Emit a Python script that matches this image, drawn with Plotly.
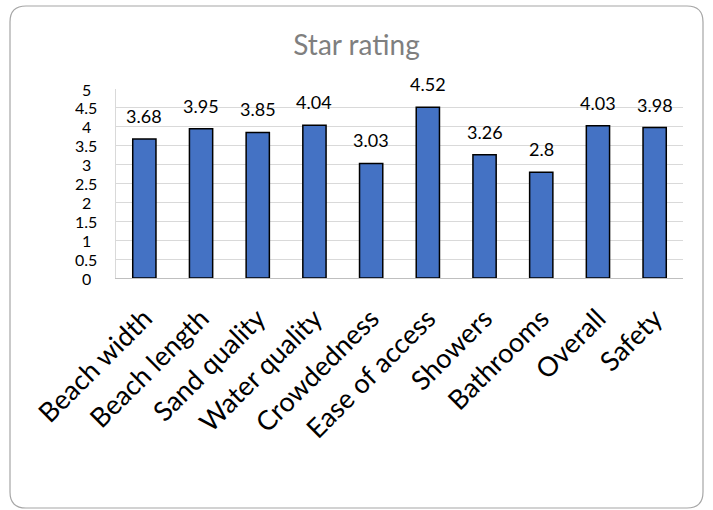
import plotly.graph_objects as go

categories = ["Beach width", "Beach length", "Sand quality", "Water quality",
              "Crowdedness", "Ease of access", "Showers", "Bathrooms",
              "Overall", "Safety"]
ratings = [3.68, 3.95, 3.85, 4.04, 3.03, 4.52, 3.26, 2.8, 4.03, 3.98]
y_ticks = [0, 0.5, 1, 1.5, 2, 2.5, 3, 3.5, 4, 4.5, 5]

W, H = 713, 510
L, R, T, B = 116, 30, 89, 232
pw, ph = W - L - R, H - T - B

FONT = "Lato"

fig = go.Figure()
fig.add_trace(go.Bar(
    x=categories, y=ratings,
    marker=dict(color="#4472C4", line=dict(color="#000000", width=1.5)),
    width=0.41,
))

# value labels above each bar
for c, v in zip(categories, ratings):
    fig.add_annotation(x=c, y=v, text=f"{v:g}", showarrow=False,
                       yanchor="bottom", yshift=10,
                       font=dict(family=FONT, size=18, color="#000000"))


def px_x(x):
    return (x - L) / pw


def px_y(y):
    return (H - B - y) / ph


# centred value-axis labels
for t in y_ticks:
    fig.add_annotation(x=px_x(86), xref="paper", y=t, yref="y",
                       text=f"{t:g}", showarrow=False,
                       xanchor="center", yanchor="middle", borderpad=0,
                       height=17,
                       font=dict(family=FONT, size=16, color="#000000"))

# rounded outer frame of the chart
x0, x1, y0, y1, r = 10, 703, 6, 508, 16
path = (
    f"M {px_x(x0 + r)} {px_y(y0)} L {px_x(x1 - r)} {px_y(y0)} "
    f"Q {px_x(x1)} {px_y(y0)} {px_x(x1)} {px_y(y0 + r)} "
    f"L {px_x(x1)} {px_y(y1 - r)} "
    f"Q {px_x(x1)} {px_y(y1)} {px_x(x1 - r)} {px_y(y1)} "
    f"L {px_x(x0 + r)} {px_y(y1)} "
    f"Q {px_x(x0)} {px_y(y1)} {px_x(x0)} {px_y(y1 - r)} "
    f"L {px_x(x0)} {px_y(y0 + r)} "
    f"Q {px_x(x0)} {px_y(y0)} {px_x(x0 + r)} {px_y(y0)} Z"
)
fig.add_shape(type="path", path=path, xref="paper", yref="paper",
              line=dict(color="#a6a6a6", width=1.2), layer="below")

fig.update_layout(
    width=W, height=H,
    margin=dict(l=L, r=R, t=T, b=B, autoexpand=False),
    paper_bgcolor="white", plot_bgcolor="white",
    showlegend=False,
    title=dict(text="Star rating", x=0.5, xanchor="center", y=1 - 45 / H,
               yanchor="middle",
               font=dict(family=FONT, size=28, color="#7f7f7f")),
    bargap=0.59,
)
fig.update_xaxes(
    tickangle=-45, tickfont=dict(family=FONT, size=27, color="#000000"),
    showline=True, linecolor="#bfbfbf", linewidth=1,
    showgrid=False, ticks="", ticklabelstandoff=13,
)
fig.update_yaxes(
    range=[0, 5], tickvals=y_ticks, showticklabels=False,
    showgrid=True, gridcolor="#d9d9d9", gridwidth=1,
    showline=True, linecolor="#d9d9d9", linewidth=1,
    zeroline=False, ticks="",
)

fig.write_html("out.html")
